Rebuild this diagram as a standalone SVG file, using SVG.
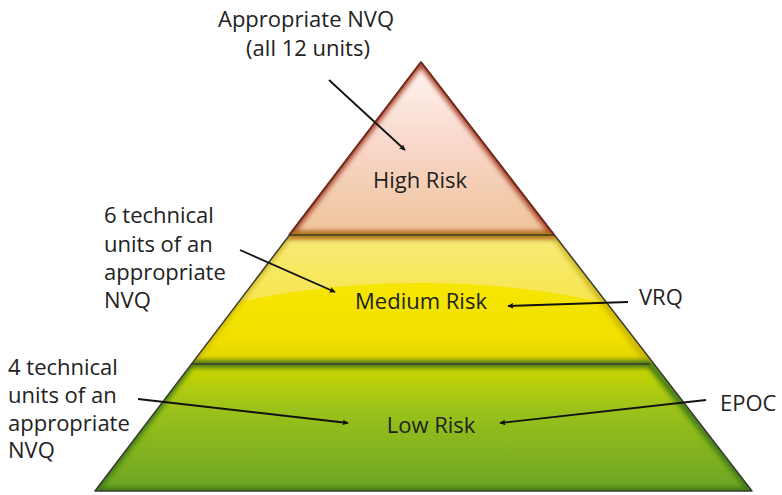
<svg xmlns="http://www.w3.org/2000/svg" width="782" height="495" viewBox="0 0 782 495">
<style>
.t{font-family:"Open Sans","Liberation Sans",sans-serif;font-size:22px;fill:#222}
.c{text-anchor:middle}
.sep{stroke:#3a3a2a;stroke-width:1.6}
.arr{stroke:#111;stroke-width:1.8;fill:none;marker-end:url(#ah)}
</style>
<defs>
<marker id="ah" viewBox="0 0 10 10" refX="9" refY="5" markerWidth="9" markerHeight="6" orient="auto" markerUnits="userSpaceOnUse"><path d="M0,0 L10,5 L0,10 L2,5 z" fill="#111"/></marker>
<linearGradient id="gHigh" x1="0" y1="62" x2="0" y2="235" gradientUnits="userSpaceOnUse"><stop offset="0" stop-color="#fff6f2"/><stop offset="0.5" stop-color="#f8d6c8"/><stop offset="1" stop-color="#efc49a"/></linearGradient>
<linearGradient id="gMed" x1="0" y1="235" x2="0" y2="364" gradientUnits="userSpaceOnUse"><stop offset="0" stop-color="#f8ea7a"/><stop offset="0.5" stop-color="#f7e650"/><stop offset="1" stop-color="#f2e040"/></linearGradient>
<linearGradient id="gMed2" x1="0" y1="283" x2="0" y2="364" gradientUnits="userSpaceOnUse"><stop offset="0" stop-color="#f6e600"/><stop offset="0.7" stop-color="#f0e000"/><stop offset="1" stop-color="#e0d400"/></linearGradient>
<linearGradient id="gLow" x1="0" y1="364" x2="0" y2="492" gradientUnits="userSpaceOnUse"><stop offset="0" stop-color="#cdd600"/><stop offset="0.35" stop-color="#9cc21a"/><stop offset="1" stop-color="#6aa424"/></linearGradient>
<clipPath id="tri"><path d="M421,62 L95,491 L752,491 Z"/></clipPath>
<clipPath id="medc"><rect x="90" y="235" width="670" height="129"/></clipPath>
<filter id="blur" x="-10%" y="-10%" width="120%" height="120%"><feGaussianBlur stdDeviation="2.5"/></filter>
</defs>
<g id="pyramid">
<g clip-path="url(#tri)">
<rect x="90" y="60" width="670" height="175" fill="url(#gHigh)"/>
<rect x="90" y="235" width="670" height="129" fill="url(#gMed)"/>
<ellipse cx="420" cy="400" rx="330" ry="117" fill="url(#gMed2)" clip-path="url(#medc)"/>
<rect x="90" y="364" width="670" height="130" fill="url(#gLow)"/>
<path d="M421,62 L289,235 L554,235 Z" fill="none" stroke="#a8422a" stroke-width="7" filter="url(#blur)"/>
<path d="M289,235 L191,364 L650,364 L554,235 Z" fill="none" stroke="#b8a000" stroke-width="6" filter="url(#blur)" opacity="0.7"/>
<path d="M191,364 L95,491 L752,491 L650,364 Z" fill="none" stroke="#3f7a18" stroke-width="7" filter="url(#blur)"/>
</g>
<path d="M421,62 L95,491 L752,491 Z" fill="none" stroke="#3a3a30" stroke-width="1.5" stroke-linejoin="round"/>
<path d="M421,62 L289,235 M554,235 L421,62" fill="none" stroke="#7a2a1a" stroke-width="1.8"/>
<line class="sep" x1="289" y1="235" x2="554" y2="235"/>
<line class="sep" x1="191" y1="364" x2="650" y2="364"/>
</g>
<g id="high"><text class="t c" x="420" y="188">High Risk</text></g>
<g id="medium"><text class="t c" x="421" y="309">Medium Risk</text></g>
<g id="low"><text class="t c" x="431" y="433">Low Risk</text></g>
<g id="nvq-all"><text class="t c" x="306" y="27">Appropriate NVQ</text><text class="t c" x="308" y="56">(all 12 units)</text></g>
<g id="nvq-6"><text class="t" x="104" y="223">6 technical</text><text class="t" x="104" y="252">units of an</text><text class="t" x="104" y="280">appropriate</text><text class="t" x="104" y="308">NVQ</text></g>
<g id="nvq-4"><text class="t" x="8" y="375">4 technical</text><text class="t" x="8" y="403">units of an</text><text class="t" x="8" y="431">appropriate</text><text class="t" x="8" y="458">NVQ</text></g>
<g id="vrq"><text class="t" x="639" y="305">VRQ</text></g>
<g id="epoc"><text class="t" x="720" y="411">EPOC</text></g>
<g id="connectors">
<line class="arr" x1="329" y1="80" x2="405" y2="150"/>
<line class="arr" x1="240" y1="250" x2="335" y2="292"/>
<line class="arr" x1="628" y1="302" x2="508" y2="306"/>
<line class="arr" x1="138" y1="399" x2="348" y2="423"/>
<line class="arr" x1="706" y1="400" x2="500" y2="423"/>
</g>
</svg>
